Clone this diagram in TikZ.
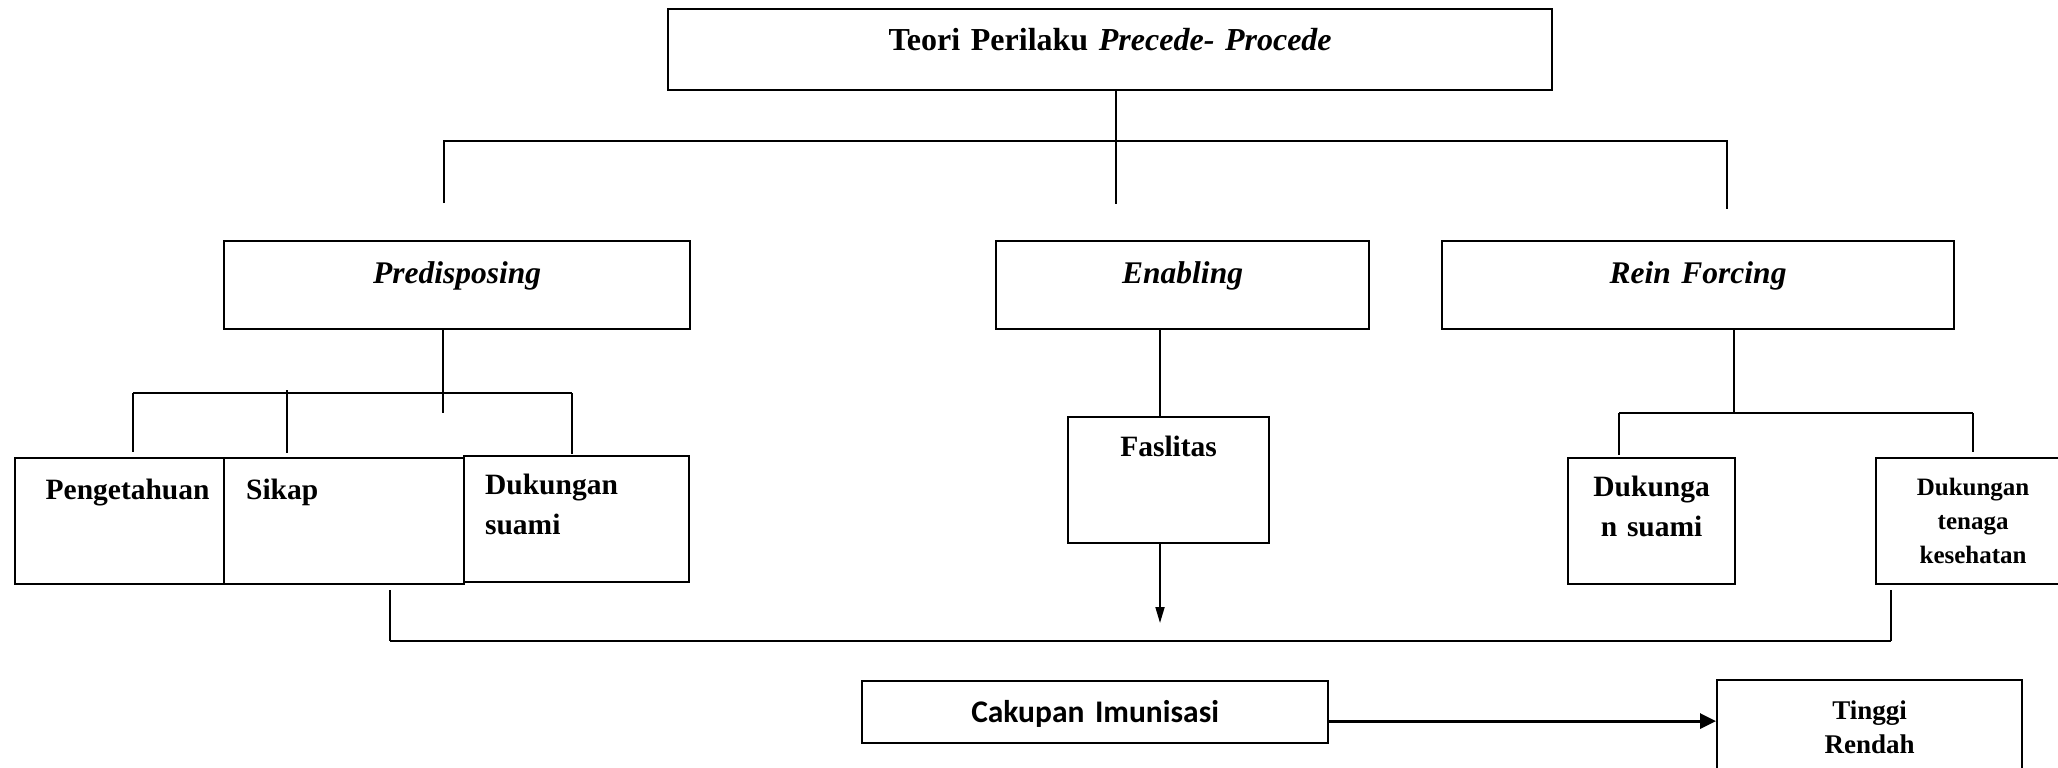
\documentclass[tikz,border=0pt]{standalone}
\usepackage{fontspec}
\setmainfont{Liberation Serif}
\newfontfamily\calibrifont{Carlito}
\usetikzlibrary{arrows.meta}
\tikzset{
  box/.style      = {draw, line width=2.2pt, inner sep=0pt, anchor=north west, align=center, font=\bfseries\fontsize{29.5}{40}\selectfont},
  headbox/.style  = {box, font=\bfseries\fontsize{32}{40}\selectfont},
  factor/.style   = {box, font=\bfseries\itshape\fontsize{31.5}{40}\selectfont},
  smallbox/.style = {box, font=\bfseries\fontsize{25}{34}\selectfont},
  link/.style     = {line width=1.8pt},
  joint/.style    = {line width=2.6pt},
  arrow/.style    = {-{Triangle[length=16pt,width=9pt]}, line width=1.8pt},
  bigarrow/.style = {-{Triangle[length=16pt,width=15pt]}, line width=3.2pt}
}

\begin{document}
\begin{tikzpicture}[x=1pt, y=-1pt]
  \useasboundingbox (0,0) rectangle (2058,768);

  % teori
  \node[headbox, minimum width=884pt, text width=884pt, minimum height=81pt, text height=41pt, text depth=40pt] (teori) at (667,8) {Teori Perilaku \textit{Precede- Procede}};

  % faktor
  \node[factor, minimum width=466pt, text width=466pt, minimum height=88pt, text height=42pt, text depth=46pt] (pred) at (223,240) {Predisposing};
  \node[factor, minimum width=373pt, text width=373pt, minimum height=88pt, text height=42pt, text depth=46pt] (enab) at (995,240) {Enabling};
  \node[factor, minimum width=512pt, text width=512pt, minimum height=88pt, text height=42pt, text depth=46pt] (rein) at (1441,240) {Rein Forcing};

  % predisposing
  \node[box, minimum width=225pt, text width=225pt, minimum height=126pt, text height=41pt, text depth=85pt] (peng) at (14,457) {Pengetahuan};
  \node[box, fill=white, align=left, inner xsep=22pt, minimum width=240pt, text width=196pt, minimum height=126pt, text height=41pt, text depth=85pt] (sikap) at (223,457) {Sikap};
  \node[box, align=left, inner xsep=21pt, minimum width=225pt, text width=183pt, minimum height=126pt, text height=38pt, text depth=88pt] (dsuami) at (463,455) {Dukungan\\suami};

  % enabling
  \node[box, minimum width=201pt, text width=201pt, minimum height=126pt, text height=39pt, text depth=87pt] (fasl) at (1067,416) {Faslitas};

  % rein forcing
  \node[box, minimum width=167pt, text width=167pt, minimum height=126pt, text height=38pt, text depth=88pt] (dsuami2) at (1567,457) {Dukunga\\n suami};
  \node[smallbox, minimum width=194pt, text width=194pt, minimum height=126pt, text height=37pt, text depth=89pt] (dtenaga) at (1875,457) {Dukungan\\tenaga\\kesehatan};

  % hasil
  \node[box, font=\calibrifont\bfseries\fontsize{31.5}{40}\selectfont, minimum width=466pt, text width=466pt, minimum height=62pt, text height=41pt, text depth=21pt] (cakupan) at (861,680) {Cakupan Imunisasi};
  \node[box, font=\bfseries\fontsize{27}{34}\selectfont, minimum width=305pt, text width=305pt, minimum height=100pt, text height=39pt, text depth=61pt] (tinggi) at (1716,679) {Tinggi\\Rendah};

  % garis teori
  \coordinate (tdrop) at (1116,204);
  \coordinate (tbusL) at (444,141);
  \coordinate (tbusR) at (1727,141);
  \coordinate (tleft) at (444,203);
  \coordinate (tright) at (1727,209);
  \draw[link] (teori.south -| tdrop) -- (tdrop);
  \draw[link] (tleft) -- (tbusL) -- (tbusR) -- (tright);

  % garis predisposing
  \coordinate (pmid) at (443,413);
  \coordinate (pbusL) at (133,393);
  \coordinate (pbusR) at (572,393);
  \coordinate (sdrop) at (287,390);
  \draw[link] (pred.south -| pmid) -- (pmid);
  \draw[link] (pbusL) -- (pbusR);
  \draw[link, shorten >=5pt] (pbusL) -- (peng.north -| pbusL);
  \draw[link, shorten >=4pt] (sdrop) -- (sikap.north -| sdrop);
  \draw[link, shorten >=1pt] (pbusR) -- (dsuami.north -| pbusR);

  % garis enabling
  \coordinate (etip) at (1160,623);
  \draw[link] (enab.south -| etip) -- (fasl.north -| etip);
  \draw[arrow] (fasl.south -| etip) -- (etip);

  % garis rein forcing
  \coordinate (rmid) at (1734,413);
  \coordinate (rbusL) at (1619,413);
  \coordinate (rbusR) at (1973,413);
  \draw[link] (rein.south -| rmid) -- (rmid);
  \draw[link] (rbusL) -- (rbusR);
  \draw[link, shorten >=2pt] (rbusL) -- (dsuami2.north -| rbusL);
  \draw[link, shorten >=5pt] (rbusR) -- (dtenaga.north -| rbusR);

  % garis bawah
  \coordinate (jL) at (390,641);
  \coordinate (jR) at (1891,641);
  \draw[link, shorten <=5pt] (sikap.south -| jL) -- (jL);
  \draw[joint] (jL) -- (jR);
  \draw[link, shorten <=5pt] (dtenaga.south -| jR) -- (jR);

  \draw[bigarrow] ([yshift=-9pt]cakupan.east) -- ([yshift=-9pt]cakupan.east -| tinggi.west);
\end{tikzpicture}
\end{document}
